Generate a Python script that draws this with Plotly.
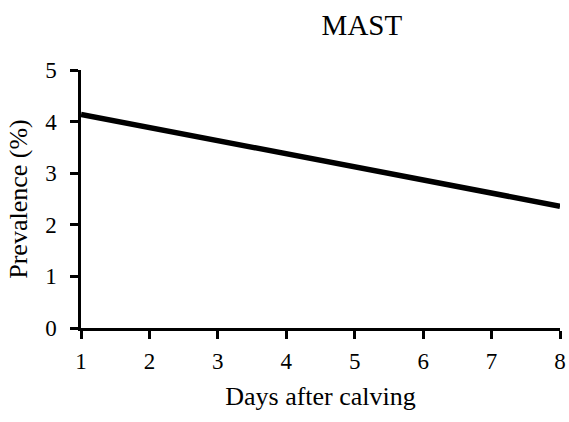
import plotly.graph_objects as go

days = [1, 8]
prevalence = [4.14, 2.36]
x_ticks = [1, 2, 3, 4, 5, 6, 7, 8]
y_ticks = [0, 1, 2, 3, 4, 5]

FONT = "Liberation Serif"
TICKFONT = dict(family=FONT, size=23, color="black")

fig = go.Figure()
fig.add_trace(go.Scatter(x=days, y=prevalence, mode="lines",
                         line=dict(color="black", width=5.5), showlegend=False))

fig.update_layout(
    width=569, height=422,
    margin=dict(l=81, r=9, t=70, b=94, autoexpand=False),
    paper_bgcolor="white", plot_bgcolor="white",
    font=dict(family=FONT, size=22, color="black"),
    title=dict(text="MAST", x=0.636, xref="container", xanchor="center",
               y=0.941, yref="container", yanchor="middle",
               font=dict(family=FONT, size=29, color="black")),
)
fig.update_xaxes(range=[1, 8], tickvals=x_ticks, showgrid=False, zeroline=False,
                 showline=True, linecolor="black", linewidth=2.5,
                 ticks="outside", ticklen=8, tickwidth=2.5, tickcolor="black",
                 ticklabelstandoff=3,
                 title=dict(text="Days after calving", standoff=14),
                 tickfont=TICKFONT, automargin=False)
fig.update_yaxes(range=[0, 5], tickvals=y_ticks, showgrid=False, zeroline=False,
                 showline=True, linecolor="black", linewidth=2.5,
                 ticks="outside", ticklen=8, tickwidth=2.5, tickcolor="black",
                 ticklabelstandoff=9,
                 title=dict(text="Prevalence (%)", standoff=11),
                 tickfont=TICKFONT, automargin=False)

# remove the browser's default 8px page margin so the figure fills the window
fig.write_html("out.html", config={"displayModeBar": False},
               post_script="document.body.style.margin='0';document.documentElement.style.overflow='hidden';")
